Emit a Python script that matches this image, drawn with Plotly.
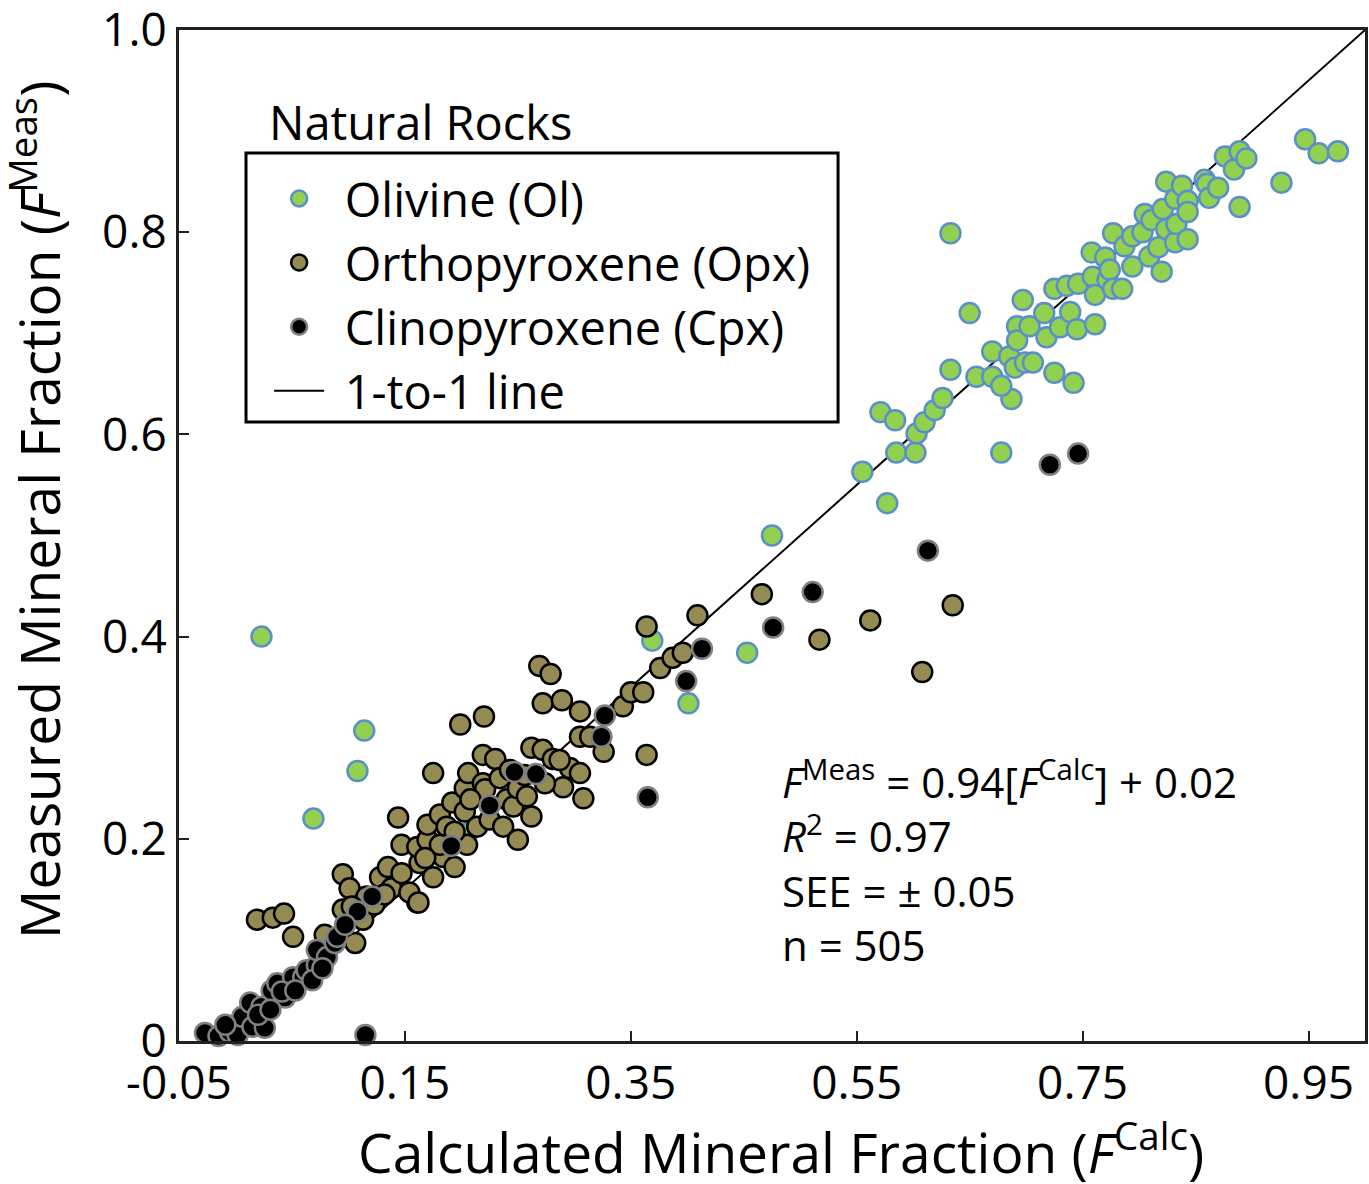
import plotly.graph_objects as go

# Olivine (Ol)
ol_calc = [0.023, 0.114, 0.108, 0.069, 0.369, 0.401, 0.453, 0.475, 0.555, 0.577,
           0.571, 0.584, 0.585, 0.602, 0.603, 0.610, 0.619, 0.626, 0.633, 0.633,
           0.650, 0.656, 0.670, 0.670, 0.678, 0.687, 0.678, 0.685, 0.690, 0.692,
           0.692, 0.697, 0.699, 0.703, 0.706, 0.716, 0.718, 0.725, 0.725, 0.730,
           0.736, 0.739, 0.742, 0.745, 0.746, 0.758, 0.759, 0.761, 0.761, 0.770,
           0.772, 0.774, 0.777, 0.785, 0.777, 0.787, 0.794, 0.794, 0.803, 0.805,
           0.809, 0.811, 0.817, 0.820, 0.821, 0.824, 0.824, 0.832, 0.832, 0.833,
           0.838, 0.843, 0.843, 0.843, 0.858, 0.860, 0.862, 0.870, 0.876, 0.884,
           0.889, 0.895, 0.889, 0.926, 0.947, 0.959, 0.976, 0.205]
ol_meas = [0.400, 0.307, 0.267, 0.220, 0.396, 0.334, 0.384, 0.500, 0.563, 0.532,
           0.622, 0.614, 0.582, 0.582, 0.601, 0.612, 0.624, 0.636, 0.664, 0.799,
           0.720, 0.657, 0.657, 0.682, 0.582, 0.635, 0.648, 0.677, 0.666, 0.707,
           0.693, 0.733, 0.671, 0.707, 0.671, 0.720, 0.696, 0.744, 0.661, 0.706,
           0.747, 0.721, 0.651, 0.704, 0.749, 0.780, 0.756, 0.738, 0.709, 0.775,
           0.753, 0.763, 0.744, 0.744, 0.799, 0.786, 0.766, 0.796, 0.800, 0.818,
           0.776, 0.812, 0.785, 0.761, 0.823, 0.850, 0.803, 0.833, 0.790, 0.808,
           0.846, 0.831, 0.820, 0.793, 0.852, 0.848, 0.834, 0.844, 0.875, 0.862,
           0.880, 0.873, 0.825, 0.849, 0.892, 0.878, 0.880, 0.205]

# Orthopyroxene (Opx)
opx_calc = [0.019, 0.033, 0.043, 0.051, 0.079, 0.095, 0.106, 0.113, 0.095, 0.101,
            0.116, 0.103, 0.161, 0.128, 0.135, 0.138, 0.147, 0.147, 0.144, 0.154,
            0.162, 0.163, 0.161, 0.175, 0.170, 0.170, 0.175, 0.181, 0.184, 0.187,
            0.192, 0.194, 0.199, 0.203, 0.203, 0.205, 0.206, 0.214, 0.219, 0.219,
            0.220, 0.221, 0.225, 0.230, 0.234, 0.237, 0.240, 0.246, 0.250, 0.250,
            0.258, 0.262, 0.262, 0.269, 0.279, 0.272, 0.272, 0.281, 0.289, 0.290,
            0.296, 0.305, 0.305, 0.305, 0.308, 0.314, 0.326, 0.343, 0.350, 0.361,
            0.364, 0.364, 0.376, 0.387, 0.396, 0.409, 0.466, 0.517, 0.562, 0.635,
            0.608, 0.243, 0.256, 0.274, 0.208, 0.194, 0.181, 0.168, 0.123, 0.132,
            0.287]
opx_meas = [0.120, 0.122, 0.126, 0.103, 0.105, 0.130, 0.097, 0.120, 0.165, 0.151,
            0.143, 0.133, 0.137, 0.162, 0.172, 0.151, 0.166, 0.194, 0.221, 0.147,
            0.137, 0.176, 0.192, 0.162, 0.199, 0.214, 0.265, 0.224, 0.182, 0.212,
            0.236, 0.172, 0.313, 0.250, 0.227, 0.194, 0.265, 0.212, 0.255, 0.283,
            0.321, 0.249, 0.219, 0.279, 0.260, 0.212, 0.239, 0.232, 0.250, 0.199,
            0.242, 0.222, 0.290, 0.371, 0.363, 0.334, 0.288, 0.279, 0.337, 0.251,
            0.270, 0.326, 0.301, 0.265, 0.240, 0.301, 0.286, 0.331, 0.345, 0.345,
            0.410, 0.283, 0.369, 0.379, 0.384, 0.421, 0.442, 0.397, 0.416, 0.431,
            0.365, 0.268, 0.263, 0.255, 0.239, 0.207, 0.194, 0.181, 0.135, 0.145,
            0.278]

# Clinopyroxene (Cpx)
cpx_calc = [-0.027, -0.015, -0.005, 0.002, 0.006, 0.015, 0.013, 0.023, 0.026, 0.032,
            0.037, 0.044, 0.051, 0.060, 0.063, 0.072, 0.072, 0.081, 0.088, 0.090,
            0.108, 0.121, 0.115, -0.009, 0.020, 0.031, 0.041, 0.053, 0.068, 0.077,
            0.097, 0.191, 0.225, 0.247, 0.266, 0.324, 0.327, 0.365, 0.399, 0.413,
            0.476, 0.511, 0.613, 0.721, 0.746]
cpx_meas = [0.008, 0.005, 0.009, 0.006, 0.024, 0.014, 0.038, 0.034, 0.013, 0.050,
            0.057, 0.043, 0.063, 0.063, 0.070, 0.075, 0.090, 0.083, 0.097, 0.103,
            0.128, 0.143, 0.006, 0.016, 0.026, 0.031, 0.049, 0.050, 0.060, 0.072,
            0.115, 0.193, 0.233, 0.266, 0.264, 0.301, 0.322, 0.241, 0.356, 0.388,
            0.409, 0.444, 0.485, 0.570, 0.581]

# 1-to-1 line
line_x = [-0.05, 1.0]
line_y = [-0.05, 1.0]

x_ticks = [-0.05, 0.15, 0.35, 0.55, 0.75, 0.95]
x_ticktext = ["-0.05", "0.15", "0.35", "0.55", "0.75", "0.95"]
y_ticks = [0, 0.2, 0.4, 0.6, 0.8, 1.0]
y_ticktext = ["0", "0.2", "0.4", "0.6", "0.8", "1.0"]

FONT = "Open Sans"
AXC = "#231f20"
PAD = "\u2009\u2009"

fig = go.Figure()
fig.add_trace(go.Scatter(x=line_x, y=line_y, mode="lines", name=PAD + "1-to-1 line",
                         line=dict(color="black", width=2), legendrank=4))
fig.add_trace(go.Scatter(x=ol_calc, y=ol_meas, mode="markers", name=PAD + "Olivine (Ol)",
                         marker=dict(size=20, color="#92d050", line=dict(color="#5b8fcb", width=2.5)),
                         cliponaxis=False, legendrank=1))
fig.add_trace(go.Scatter(x=opx_calc, y=opx_meas, mode="markers", name=PAD + "Orthopyroxene (Opx)",
                         marker=dict(size=20, color="#948a54", line=dict(color="black", width=2.5)),
                         cliponaxis=False, legendrank=2))
fig.add_trace(go.Scatter(x=cpx_calc, y=cpx_meas, mode="markers", name=PAD + "Clinopyroxene (Cpx)",
                         marker=dict(size=20, color="black", line=dict(color="#808080", width=2.5)),
                         cliponaxis=False, legendrank=3))

fig.update_layout(
    width=1369, height=1184,
    margin=dict(l=179, r=4, t=30, b=143, autoexpand=False),
    paper_bgcolor="white", plot_bgcolor="white",
    font=dict(family=FONT, color="black"),
    showlegend=True,
    legend=dict(x=0.076, y=0.87, xanchor="left", yanchor="top",
                font=dict(size=47, family=FONT), itemwidth=50,
                bgcolor="rgba(0,0,0,0)", borderwidth=0),
    xaxis=dict(range=[-0.05, 1.0], tickvals=x_ticks, ticktext=x_ticktext,
               ticks="inside", ticklen=10, tickwidth=2, tickcolor=AXC,
               showline=True, linewidth=3, linecolor=AXC, mirror=True,
               showgrid=False, zeroline=False, ticklabeloverflow="allow",
               automargin=False, tickfont=dict(size=46, family=FONT)),
    yaxis=dict(range=[0, 1.0], tickvals=y_ticks, ticktext=y_ticktext,
               ticks="inside", ticklen=10, tickwidth=2, tickcolor=AXC,
               showline=True, linewidth=3, linecolor=AXC, mirror=True,
               showgrid=False, zeroline=False, ticklabeloverflow="allow",
               automargin=False, tickfont=dict(size=46, family=FONT)),
    shapes=[dict(type="rect", xref="paper", yref="paper",
                 x0=0.0565, x1=0.5557, y0=0.6123, y1=0.8783,
                 line=dict(color="black", width=3))],
    annotations=[
        dict(text="Natural Rocks", xref="paper", yref="paper", x=0.0742, y=0.909,
             xanchor="left", yanchor="middle", showarrow=False,
             font=dict(size=47, family=FONT)),
        dict(text="<i>F</i><sup>Meas</sup> = 0.94[<i>F</i><sup>Calc</sup>] + 0.02<br>"
                  "<i>R</i><sup>2</sup> = 0.97<br>SEE = ± 0.05<br>n = 505",
             xref="x", yref="y", x=0.482, y=0.178, xanchor="left", yanchor="middle",
             align="left", showarrow=False, font=dict(size=42, family=FONT)),
        dict(text="Calculated Mineral Fraction (<i>F</i><sup>Calc</sup>)",
             xref="paper", yref="paper", x=(781 - 179) / 1186, y=-(1149 - 1041) / 1011,
             xanchor="center", yanchor="middle", showarrow=False,
             font=dict(size=55, family=FONT)),
        dict(text="Measured Mineral Fraction (<i>F</i><sup>Meas</sup>)",
             xref="paper", yref="paper", x=-(179 - 36) / 1186, y=1 - (510 - 30) / 1011,
             xanchor="center", yanchor="middle", textangle=-90, showarrow=False,
             font=dict(size=55, family=FONT)),
    ],
)

fig.write_html("out.html")
